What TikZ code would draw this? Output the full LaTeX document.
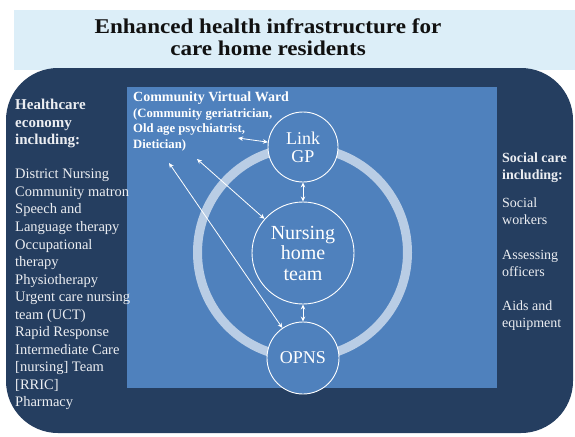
\documentclass[tikz,border=0pt]{standalone}
\usepackage{fontspec}
\setmainfont{Liberation Serif}
\newfontfamily\titlefont[FakeStretch=1.1]{Liberation Serif}
\usetikzlibrary{arrows.meta}
\definecolor{bandblue}{RGB}{220,238,248}
\definecolor{darkblue}{RGB}{37,62,96}
\definecolor{midblue}{RGB}{79,129,189}
\definecolor{ringblue}{RGB}{185,205,229}
\definecolor{titletext}{RGB}{17,17,17}
\definecolor{paletext}{RGB}{236,238,242}
\begin{document}
\begin{tikzpicture}[x=1pt,y=-1pt,
  circnode/.style={circle, draw=white, line width=0.9pt, fill=midblue, text=white, inner sep=0pt, align=center},
  sidetext/.style={anchor=north west, inner sep=0pt, align=left, text=paletext, font=\fontsize{14.5}{17.55}\selectfont},
  sidehead/.style={anchor=north west, inner sep=0pt, align=left, text=paletext, font=\bfseries\fontsize{15}{17.5}\selectfont},
  biarrow/.style={draw=white, line width=0.8pt, {Stealth[length=5pt,width=4.5pt]}-{Stealth[length=5pt,width=4.5pt]}}
]
\useasboundingbox (0,0) rectangle (575,436);
\fill[white] (0,0) rectangle (575,436);
\fill[bandblue] (14,10) rectangle (575,70);
\fill[darkblue, rounded corners=52pt] (6,68) rectangle (573,433);
\fill[midblue] (127,87) rectangle (497,388);
\draw[ringblue, line width=9pt] (302.5,252.5) circle[radius=105];

\node[anchor=north, inner sep=0pt, align=center, text=titletext, font=\titlefont\bfseries\fontsize{21}{22}\selectfont] (title) at (268,19) {Enhanced health infrastructure for\\care home residents};

\node[sidehead] (hchead) at (15,99) {Healthcare\\economy\\including:};
\node[sidetext] (hclist) at (15,169) {District Nursing\\Community matron\\Speech and\\Language therapy\\Occupational\\therapy\\Physiotherapy\\Urgent care nursing\\team (UCT)\\Rapid Response\\Intermediate Care\\{[nursing]} Team\\{[RRIC]}\\Pharmacy};

\node[sidehead, font=\bfseries\fontsize{14}{17}\selectfont] (schead) at (502,153) {Social care\\including:};
\node[sidetext, font=\fontsize{14}{17}\selectfont] (sclist) at (502,198) {Social\\workers\\[17.5pt]Assessing\\officers\\[17.5pt]Aids and\\equipment};

\node[anchor=north west, inner sep=0pt, align=left, text=white, font=\bfseries\fontsize{12.7}{15.5}\selectfont] (cvw) at (133,92) {{\fontsize{14}{15.5}\selectfont Community Virtual Ward}\\(Community geriatrician,\\Old age psychiatrist,\\Dietician)};

\node[circnode, minimum size=70pt, font=\fontsize{18}{18}\selectfont] (link) at (303,147) {Link\\GP};
\node[circnode, minimum size=102pt, font=\fontsize{20}{20.5}\selectfont] (nurse) at (303,253) {Nursing\\home\\team};
\node[circnode, minimum size=72pt, font=\fontsize{18}{18}\selectfont] (opns) at (303,358) {OPNS};

\coordinate (a1) at (238,138);
\coordinate (a3) at (197,159);
\coordinate (a4) at (169,163);

\draw[biarrow] (a1) -- (link);
\draw[biarrow] (link) -- (nurse);
\draw[biarrow] (a3) -- (nurse);
\draw[biarrow] (a4) -- (opns);
\draw[biarrow] (nurse) -- (opns);
\end{tikzpicture}
\end{document}
